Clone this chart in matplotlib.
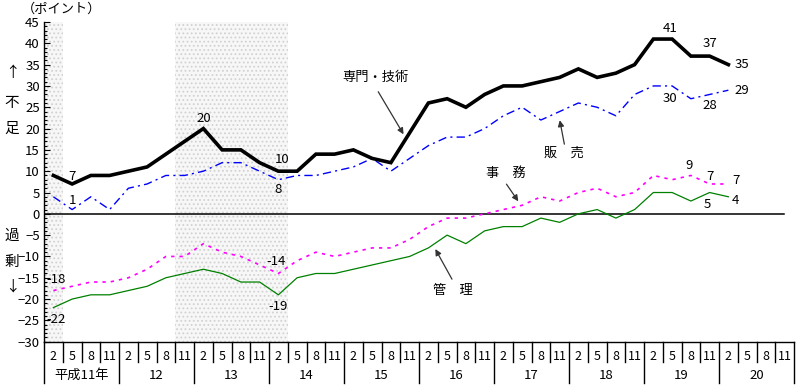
import matplotlib.pyplot as plt
import numpy as np

plt.rcParams['font.family'] = ['Noto Sans CJK JP', 'DejaVu Sans']
plt.rcParams['hatch.linewidth'] = 0.8

# 平成11年2月 ～ 平成20年2月 (quarterly)
years = ['平成11年', '12', '13', '14', '15', '16', '17', '18', '19', '20']
months = ['2', '5', '8', '11']

senmon = [9, 7, 9, 9, 10, 11, 14, 17, 20, 15, 15, 12, 10, 10, 14, 14, 15, 13, 12,
          19, 26, 27, 25, 28, 30, 30, 31, 32, 34, 32, 33, 35, 41, 41, 37, 37, 35]
hanbai = [4, 1, 4, 1, 6, 7, 9, 9, 10, 12, 12, 10, 8, 9, 9, 10, 11, 13, 10,
          13, 16, 18, 18, 20, 23, 25, 22, 24, 26, 25, 23, 28, 30, 30, 27, 28, 29]
jimu = [-18, -17, -16, -16, -15, -13, -10, -10, -7, -9, -10, -12, -14, -11, -9, -10, -9, -8, -8,
        -6, -3, -1, -1, 0, 1, 2, 4, 3, 5, 6, 4, 5, 9, 8, 9, 7, 7]
kanri = [-22, -20, -19, -19, -18, -17, -15, -14, -13, -14, -16, -16, -19, -15, -14, -14, -13, -12, -11,
         -10, -8, -5, -7, -4, -3, -3, -1, -2, 0, 1, -1, 1, 5, 5, 3, 5, 4]

# 景気後退期 (shaded, category index ranges)
shade = [(0, 0), (7, 12)]

x = np.arange(len(senmon))
n_cat = len(years) * len(months)

fig = plt.figure(figsize=(7.99, 3.88), dpi=100)
ax = fig.add_axes([44 / 799, 46.3 / 388, 750 / 799, 319.7 / 388])

for a, b in shade:
    ax.axvspan(a - 0.5, b + 0.5, facecolor='#f7f7f7', edgecolor='#d2d2d2',
               hatch='....', lw=0, zorder=0)

ax.axhline(0, xmin=0, xmax=0.987, color='black', lw=1.1, zorder=1)

ax.plot(x, senmon, color='black', lw=2.6, solid_joinstyle='miter', zorder=5)
ax.plot(x, hanbai, color='#0000ff', lw=1.0, linestyle=(0, (6, 3, 1.5, 3)), zorder=4)
ax.plot(x, jimu, color='#ff00ff', lw=1.2, linestyle=(0, (2, 3)), zorder=3)
ax.plot(x, kanri, color='#008000', lw=0.9, zorder=3)

ax.set_xlim(-0.5, n_cat - 0.5)
ax.set_ylim(-30, 45)
ax.set_yticks(np.arange(-30, 46, 5))
ax.set_yticks(np.arange(-30, 46, 1), minor=True)
ax.tick_params(axis='y', which='major', direction='in', length=4, width=0.8,
               labelsize=9.5, pad=3)
ax.tick_params(axis='y', which='minor', direction='in', length=2.5, width=0.8)
ax.set_xticks([])
for s in ['top', 'right']:
    ax.spines[s].set_visible(False)
ax.spines['left'].set_linewidth(1.0)
ax.spines['bottom'].set_linewidth(1.0)

# x-axis category table
tr = ax.get_xaxis_transform()
px = 1 / 319.7
for k in range(n_cat + 1):
    depth = 41 if k % 4 == 0 else 20.5
    ax.plot([k - 0.5, k - 0.5], [0, -depth * px], color='black', lw=1.0,
            transform=tr, clip_on=False)
for k in range(n_cat):
    ax.text(k, -15 * px, months[k % 4], transform=tr, ha='center', va='center',
            fontsize=9)
for j, yl in enumerate(years):
    ax.text(4 * j + 1.5, -33.5 * px, yl, transform=tr, ha='center', va='center',
            fontsize=9.5)

# axis captions
fig.text(62 / 799, 1 - 9 / 388, '（ポイント）', ha='center', va='center', fontsize=9.5)
for ch, yy in [('↑', 73), ('不', 103), ('足', 129), ('過', 236), ('剰', 262), ('↓', 287)]:
    fig.text(12 / 799, 1 - yy / 388, ch, ha='center', va='center', fontsize=10.5)

# value labels
vals = [(1, 8.8, '7'), (1, 3.2, '1'), (8, 22.4, '20'), (12.2, 12.8, '10'), (12, 5.7, '8'),
        (0.15, -15.4, '-18'), (0.15, -24.8, '-22'), (11.9, -11.1, '-14'), (12.0, -21.8, '-19'),
        (32.9, 43.4, '41'), (35.0, 39.9, '37'), (36.7, 35.1, '35'), (36.7, 29.0, '29'),
        (32.9, 27.0, '30'), (35.0, 25.3, '28'), (33.9, 11.3, '9'), (35.0, 8.8, '7'),
        (36.4, 7.8, '7'), (34.9, 2.2, '5'), (36.4, 3.2, '4')]
for xv, yv, t in vals:
    ax.text(xv, yv, t, ha='center', va='center', fontsize=9.5, zorder=6)

# series names with arrows
arrow = dict(arrowstyle='-|>', color='#333333', lw=0.9, mutation_scale=9)
ax.annotate('', xy=(18.75, 18.1), xytext=(17.25, 29.2), arrowprops=arrow)
ax.text(17.2, 32.0, '専門・技術', ha='center', va='center', fontsize=9.5)
ax.annotate('', xy=(26.98, 22.6), xytext=(27.28, 15.7), arrowprops=arrow)
ax.text(27.2, 14.3, '販　売', ha='center', va='center', fontsize=9.5)
ax.annotate('', xy=(24.88, 2.4), xytext=(24.08, 7.5), arrowprops=arrow)
ax.text(24.15, 9.5, '事　務', ha='center', va='center', fontsize=9.5)
ax.annotate('', xy=(20.3, -7.7), xytext=(21.33, -15.9), arrowprops=arrow)
ax.text(21.3, -17.9, '管　理', ha='center', va='center', fontsize=9.5)

fig.savefig('out.png', dpi=100)
